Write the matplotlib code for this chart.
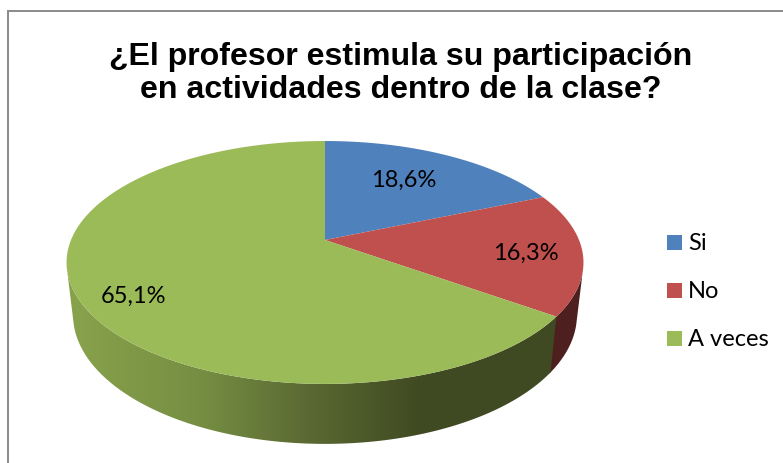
import numpy as np
import matplotlib
matplotlib.use('Agg')
import matplotlib.pyplot as plt
from matplotlib.patches import Polygon, Rectangle

categories = ['Si', 'No', 'A veces']
values = [18.6, 16.3, 65.1]
colors = ['#4f81bd', '#c0504d', '#9bbb59']
wall_red = '#4d1f1e'

# wall shading of the green slice, by pixel x
shade_x = [70, 200, 300, 340, 420, 560]
shade_r = [136, 118, 92, 82, 64, 64]
shade_g = [162, 142, 108, 96, 74, 74]
shade_b = [76, 66, 52, 46, 34, 34]

W, H = 783, 463
CX = 325
K = 0.185  # perspective of the pie plane


def top_rim(t):
    u, v = np.sin(t), np.cos(t)
    d = 1 + K * v
    return CX + 254 * u / d, 240 - 117.3 * v / d


def bottom_rim(t):
    u, v = np.sin(t), np.cos(t)
    d = 1 + K * v
    return CX + 247.6 * u / d, 291 - 124.6 * v / d


def wall_outline(t0, t1):
    t = np.linspace(t0, t1, 300)
    xt, yt = top_rim(t)
    xb, yb = bottom_rim(t[::-1])
    return np.c_[np.r_[xt, xb], np.r_[yt, yb]]


fig = plt.figure(figsize=(W / 100, H / 100), dpi=100)
ax = fig.add_axes([0, 0, 1, 1])
ax.axis('off')

# chart border, cropped by the picture on the right and bottom
ax.add_patch(Rectangle((8, 11), 800, 480, fc='white', ec='#8a8a8a', lw=1.4))

edges = np.radians(np.concatenate([[0], np.cumsum(values)]) * 3.6)

# side wall: red is flat, green gets a left to right gradient
ax.add_patch(Polygon(wall_outline(np.radians(105), edges[2] + 0.01), fc=wall_red, ec='none'))

gx = np.arange(60, 570)
gradient = np.dstack([np.interp(gx, shade_x, shade_r),
                      np.interp(gx, shade_x, shade_g),
                      np.interp(gx, shade_x, shade_b)]) / 255
green_wall = Polygon(wall_outline(edges[2], np.radians(255)), fc='none', ec='none')
ax.add_patch(green_wall)
im = ax.imshow(gradient, extent=(60, 570, 450, 200), aspect='auto', zorder=1)
im.set_clip_path(green_wall)

ax.set_xlim(0, W)
ax.set_ylim(H, 0)

# top face
for i, c in enumerate(colors):
    t = np.linspace(edges[i], edges[i + 1], 200)
    x, y = top_rim(t)
    ax.add_patch(Polygon(np.c_[np.r_[CX, x], np.r_[240, y]], fc=c, ec='none', zorder=2))

ax.text(401, 57, '¿El profesor estimula su participación', family='Liberation Sans',
        weight='bold', fontsize=23.1, ha='center', va='center', color='black', zorder=3)
ax.text(401, 90, 'en actividades dentro de la clase?', family='Liberation Sans',
        weight='bold', fontsize=23.1, ha='center', va='center', color='black', zorder=3)

label_pos = [(404, 180), (526, 253), (134, 296)]
for val, (lx, ly) in zip(values, label_pos):
    ax.text(lx, ly, f'{val:.1f}%'.replace('.', ','), family='Lato', fontsize=17,
            ha='center', va='center', color='black', zorder=3)

for i, (name, c) in enumerate(zip(categories, colors)):
    y = 235 + 48 * i
    ax.add_patch(Rectangle((667, y), 15, 15, fc=c, ec='none'))
    ax.text(688, y + 8.5, name, family='Lato', fontsize=17, ha='left', va='center', color='black')

fig.savefig('out.png', dpi=100)
